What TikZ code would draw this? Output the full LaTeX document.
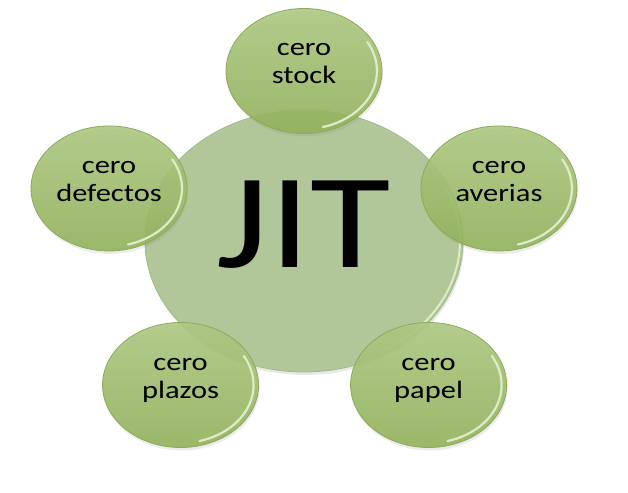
\documentclass[tikz,border=0pt]{standalone}
\usepackage{fontspec}
\setmainfont{Carlito}
\newfontfamily\leaffont[FakeStretch=1.22]{Carlito}
\usetikzlibrary{shapes.geometric,calc,shadows}
\definecolor{JitPale}{HTML}{B1C79A}
\definecolor{JitPaleRim}{HTML}{A2BB86}
\definecolor{JitLeafTop}{HTML}{ADC882}
\definecolor{JitLeafBottom}{HTML}{93B25C}
\definecolor{JitRim}{HTML}{8BAA58}
\definecolor{JitShine}{HTML}{DDEBC6}
\tikzset{
  hub/.style={ellipse, minimum width=318pt, minimum height=262pt, inner sep=0pt,
              fill=JitPale, draw=JitPaleRim, line width=0.8pt,
              drop shadow={opacity=0.18, shadow xshift=1pt, shadow yshift=-3pt},
              path picture={\draw[JitShine, line width=2pt, line cap=round]
                ($(path picture bounding box.center)+(-60:156pt and 128pt)$)
                arc[start angle=-60, end angle=25, x radius=156pt, y radius=128pt];}},
  title/.style={font=\leaffont\fontsize{135}{135}\selectfont, inner sep=0pt},
  spoke/.style={ellipse, minimum width=156pt, minimum height=125pt, inner sep=0pt,
                top color=JitLeafTop, bottom color=JitLeafBottom, fill opacity=0.9,
                text opacity=1, draw=JitRim, line width=0.8pt, align=center,
                text height=40pt, text depth=14pt,
                font=\leaffont\fontsize{25}{28}\selectfont,
                drop shadow={opacity=0.15, shadow xshift=1pt, shadow yshift=-3pt},
                path picture={\draw[JitShine, line width=2.2pt, line cap=round]
                  ($(path picture bounding box.center)+(-75:73pt and 58pt)$)
                  arc[start angle=-75, end angle=30, x radius=73pt, y radius=58pt];}},
}
\begin{document}
\begin{tikzpicture}[x=1pt, y=1pt]
  \useasboundingbox[fill=white] (0,0) rectangle (628,492);
  \node[hub] (hub) at (304,251) {};
  \node[title] (jit) at ([yshift=16pt]hub.center) {JIT};
  \node[spoke] (stock) at ($(hub.center)+(90:207pt and 170pt)$) {cero\\stock};
  \node[spoke] (defectos) at ($(hub.center)+(162:205pt and 170pt)$) {cero\\defectos};
  \node[spoke] (averias) at ($(hub.center)+(18:205pt and 170pt)$) {cero\\averias};
  \node[spoke] (plazos) at ($(hub.center)+(234:210pt and 178pt)$) {cero\\plazos};
  \node[spoke] (papel) at ($(hub.center)+(306:212pt and 178pt)$) {cero\\papel};
\end{tikzpicture}
\end{document}
